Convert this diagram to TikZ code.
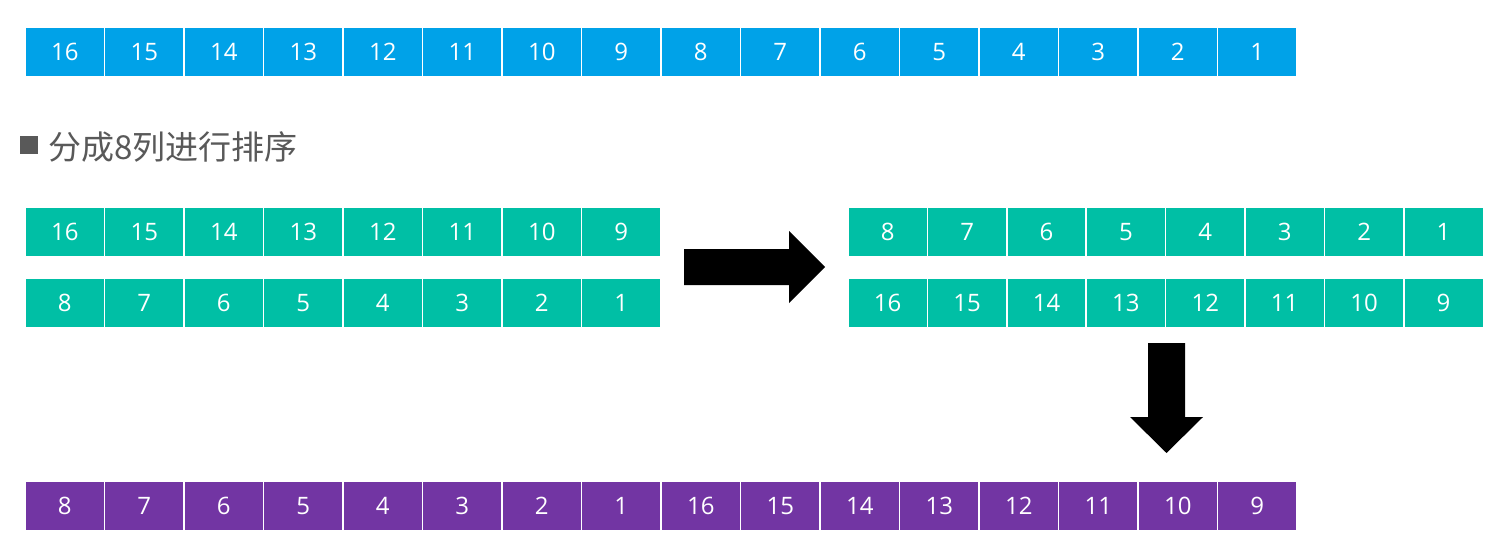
\documentclass[tikz,border=0pt]{standalone}
\usepackage{fontspec}
\setmainfont{Open Sans}
\newfontfamily\cjk{Noto Sans CJK SC}
\usepackage{xcolor}
\usetikzlibrary{positioning}
\definecolor{cellblue}{HTML}{00A2E8}
\definecolor{cellgreen}{HTML}{00BFA5}
\definecolor{cellpurple}{HTML}{7235A3}
\definecolor{textgray}{HTML}{595959}

\begin{document}
\begin{tikzpicture}[x=1pt, y=-1pt,
  cell/.style={draw=white, line width=1.5pt, minimum width=79.5pt, minimum height=50pt, inner sep=0pt, text=white, font=\fontsize{24}{24}\selectfont},
  bigarrow/.style={fill=black}
]
  \useasboundingbox (0,0) rectangle (1496,559);

  % input row
  \foreach \i in {1,...,16} {
    \pgfmathtruncatemacro{\v}{17-\i}
    \node[cell, fill=cellblue] (top-\i) at ({25+79.5*(\i-0.5)},52) {\v};
  }

  % heading
  \node[fill=textgray, minimum width=18pt, minimum height=17pt, inner sep=0pt] (bullet) at (29,145) {};
  \node[anchor=west, inner sep=0pt, text=textgray, font=\cjk\fontsize{33}{33}\selectfont] (title) at (48,147) {分成8列进行排序};

  % two columns before and after sorting
  \foreach \i in {1,...,8} {
    \pgfmathtruncatemacro{\a}{17-\i}
    \pgfmathtruncatemacro{\b}{9-\i}
    \node[cell, fill=cellgreen] (la-\i) at ({25+79.5*(\i-0.5)},232) {\a};
    \node[cell, fill=cellgreen] (lb-\i) at ({25+79.5*(\i-0.5)},303) {\b};
    \node[cell, fill=cellgreen] (ra-\i) at ({848+79.4*(\i-0.5)},232) {\b};
    \node[cell, fill=cellgreen] (rb-\i) at ({848+79.4*(\i-0.5)},303) {\a};
  }

  % result row
  \foreach \i in {1,...,16} {
    \pgfmathtruncatemacro{\v}{\i<9 ? 9-\i : 25-\i}
    \node[cell, fill=cellpurple] (out-\i) at ({25+79.5*(\i-0.5)},506) {\v};
  }

  % block arrows
  \fill[bigarrow] (684,249) -- (789,249) -- (789,231) -- (825,267) -- (789,303)
    -- (789,285) -- (684,285) -- cycle;
  \fill[bigarrow] (1148,343) -- (1185,343) -- (1185,417) -- (1203,417) -- (1166.5,453)
    -- (1130,417) -- (1148,417) -- cycle;
\end{tikzpicture}
\end{document}
